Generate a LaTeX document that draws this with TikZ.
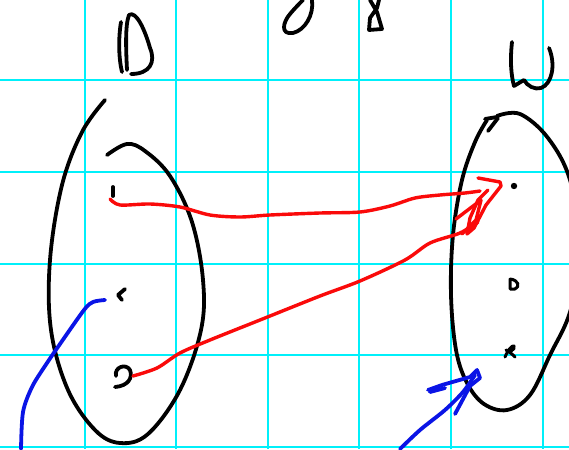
\documentclass[tikz,border=0pt]{standalone}
\usepackage{xcolor}
\usepackage{tikz}
\definecolor{gridCyan}{RGB}{0,240,250}
\definecolor{inkRed}{RGB}{250,10,10}
\definecolor{inkBlue}{RGB}{10,20,230}
\begin{document}
\begin{tikzpicture}[
    x=1pt, y=-1pt,
    gridline/.style={gridCyan, line width=2.4pt},
    ink/.style={black, line width=3.8pt, line cap=round, line join=round},
    redink/.style={inkRed, line width=3.4pt, line cap=round, line join=round},
    blueink/.style={inkBlue, line width=3.8pt, line cap=round, line join=round},
    ]
    \useasboundingbox (0,0) rectangle (569,449);
    \clip (0,0) rectangle (569,449);
    \fill[white] (0,0) rectangle (569,449);
    % Grid
    \foreach \gx in {85,176,268,359,451,543}
        \draw[gridline] (\gx,0) -- (\gx,449);
    \foreach \gy in {80,172,264,355,447}
        \draw[gridline] (0,\gy) -- (569,\gy);
    % Letters on top
    \draw[ink] (121,22) .. controls (118,40) and (119,60) .. (122,72);
    \draw[ink] (127,70) .. controls (126,50) and (125,25) .. (129,15)
        .. controls (136,10) and (145,30) .. (150,48)
        .. controls (156,62) and (150,74) .. (131,74);
    \draw[ink] (312,0) .. controls (314,15) and (305,30) .. (293,33)
        .. controls (280,35) and (283,22) .. (290,14)
        .. controls (295,8) and (300,3) .. (303,0);
    \draw[ink] (370,0) -- (377,12) -- (382,29) -- (369,30) -- (370,18) -- (377,8) -- (379,0);
    \draw[ink] (512,42) .. controls (510,60) and (511,75) .. (514,86)
        -- (524,80) .. controls (527,86) and (535,90) .. (541,88)
        .. controls (552,84) and (556,65) .. (549,48);
    % Left set
    \draw[ink] plot[smooth, tension=0.6] coordinates {
        (105,100) (82,132) (62,185) (50,260) (51,330) (68,390) (95,430)
        (120,443) (148,434) (180,390) (201,330) (203,280) (192,222)
        (170,176) (145,151) (127,144) (107,155)};
    % Right set
    \draw[ink] plot[smooth, tension=0.6] coordinates {
        (497,116) (520,114) (548,138) (570,180) (582,250) (570,312)
        (550,355) (530,395) (507,410) (484,404) (467,383) (456,350)
        (451,295) (453,235) (462,180) (475,142) (487,120)};
    \draw[ink] (485,119) -- (497,117);
    \draw[ink] (488,131) -- (498,118);
    % Elements
    \draw[ink] (113,187) -- (113,196);
    \draw[ink] (125,289) -- (118,295) -- (122,300);
    \draw[ink] (116,376) .. controls (114,367) and (126,363) .. (130,370)
        .. controls (133,378) and (128,386) .. (115,387);
    \fill (514,186) circle (3.2pt);
    \draw[ink, line width=3pt] (510,279) -- (510,289) -- (515,289)
        .. controls (520,287) and (519,280) .. (510,279);
    \draw[ink, line width=3pt] (505,357) .. controls (508,350) and (512,345) .. (514,346)
        .. controls (516,350) and (508,353) .. (506,350)
        .. controls (510,352) and (513,355) .. (515,357);
    % Red arrows
    \draw[redink] plot[smooth, tension=0.5] coordinates {
        (110,199) (120,205) (150,204) (180,207) (210,215) (240,217)
        (270,215) (320,213) (360,212) (390,206) (415,198) (440,195)
        (465,193) (480,191)};
    \draw[redink] (478,178) -- (500,182) -- (501,186) -- (486,205)
        -- (474,228) -- (467,234) -- (470,218) -- (478,200) -- (488,190);
    \draw[redink] (456,219) -- (481,200) -- (476,220) -- (462,234);
    \draw[redink] plot[smooth, tension=0.5] coordinates {
        (133,376) (157,368) (180,353) (210,340) (260,320) (320,296)
        (360,281) (405,260) (430,243) (460,233) (478,222)};
    % Blue arrows
    \draw[blueink] plot[smooth, tension=0.5] coordinates {
        (105,300) (93,302) (84,310) (60,344) (45,366) (32,387)
        (23,412) (21,449)};
    \draw[blueink] plot[smooth, tension=0.5] coordinates {
        (400,449) (420,430) (445,410) (463,392) (475,375)};
    \draw[blueink] (428,390) -- (442,385) -- (470,377) -- (477,370)
        -- (480,378) -- (470,386) -- (455,414);
    \draw[blueink] (430,392) -- (445,388);
\end{tikzpicture}
\end{document}
